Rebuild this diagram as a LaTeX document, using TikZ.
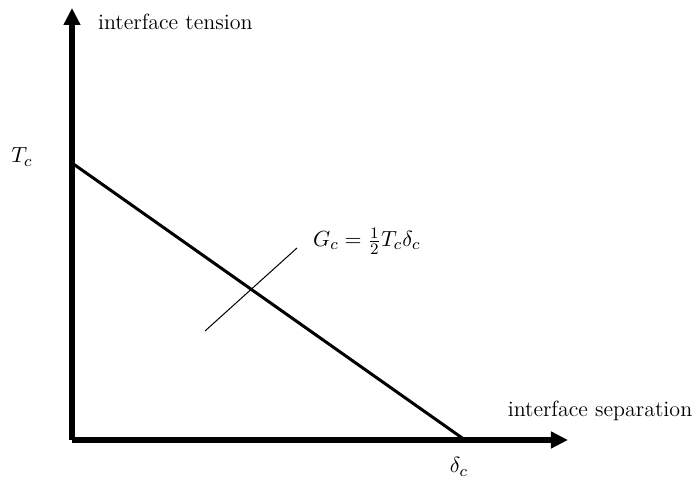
\documentclass[tikz,border=0pt]{standalone}
\usepackage{amsmath}
\usetikzlibrary{arrows.meta}

\begin{document}
\begin{tikzpicture}[x=0.5pt, y=0.5pt, font=\fontsize{11}{13}\selectfont]
  \useasboundingbox (0,0) rectangle (693,487);
  \coordinate (origin) at (72,47);
  \coordinate (ytop) at (72,479);
  \coordinate (xend) at (568,47);
  \coordinate (tc) at (72,324);
  \coordinate (dc) at (465,47);
  \coordinate (gcA) at (205,156);
  \coordinate (gcB) at (297,239);
  \draw[line width=3pt, -{Triangle[length=8.5pt, width=8pt]}] (origin) -- (ytop);
  \draw[line width=3pt, -{Triangle[length=8.5pt, width=8pt]}] (origin) -- (xend);
  \draw[line width=1.5pt] (tc) -- (dc);
  \draw[line width=0.5pt] (gcA) -- (gcB);
  \node[anchor=west] (ylabel) at (91,465) {interface tension};
  \node (tclabel) at (22,330) {$T_c$};
  \node[anchor=west] (gclabel) at (306,246) {$G_c = \frac{1}{2} T_c \delta_c$};
  \node (xlabel) at (600,76) {interface separation};
  \node (dclabel) at (459,20) {$\delta_c$};
\end{tikzpicture}
\end{document}
